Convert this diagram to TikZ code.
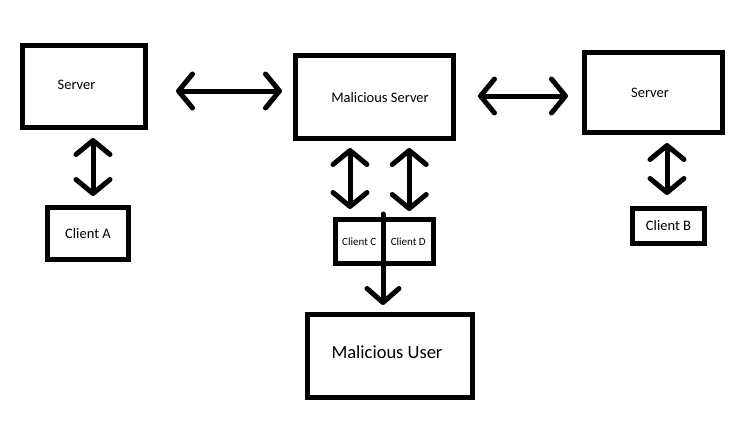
\documentclass[tikz,border=0pt]{standalone}
\usepackage{fontspec}
\setmainfont{Carlito}
\usetikzlibrary{arrows.meta,calc}
\begin{document}
\begin{tikzpicture}[x=1pt,y=-1pt,
  box/.style={draw=black,line width=5pt,fill=white,rectangle,inner sep=0pt,font=\fontsize{14.5}{16}\selectfont},
  biarrow/.style={line width=5pt,line cap=round,{Straight Barb[length=14pt,width=34pt,round]}-{Straight Barb[length=14pt,width=34pt,round]}},
  downarrow/.style={line width=5pt,line cap=round,-{Straight Barb[length=14pt,width=32pt,round]}}]
\useasboundingbox (0,0) rectangle (752,442);
\node[box,minimum width=123pt,minimum height=82pt,label={[xshift=-7.5pt,yshift=1.5pt,font=\fontsize{14.5}{16}\selectfont]center:Server}] (serverL) at (84,86.5) {};
\node[box,minimum width=81pt,minimum height=52pt] (clientA) at (88,233.5) {Client A};
\node[box,minimum width=158pt,minimum height=83pt,label={[xshift=5.5pt,yshift=-1pt,font=\fontsize{14.5}{16}\selectfont]center:Malicious Server}] (malserver) at (374.5,97) {};
\node[box,minimum width=138pt,minimum height=80pt,label={[xshift=-3.5pt,font=\fontsize{14.5}{16}\selectfont]center:Server}] (serverR) at (653.5,92.5) {};
\node[box,minimum width=72pt,minimum height=35pt] (clientB) at (668.5,226) {Client B};
\node[box,minimum width=47.5pt,minimum height=44pt,font=\fontsize{11}{12}\selectfont] (clientC) at (359.25,241.5) {Client C};
\node[box,minimum width=50.5pt,minimum height=44pt,font=\fontsize{11}{12}\selectfont] (clientD) at (408.25,241.5) {Client D};
\node[box,minimum width=165pt,minimum height=83pt,label={[xshift=-3pt,yshift=4pt,font=\fontsize{18.5}{20}\selectfont]center:Malicious User}] (muser) at (390,356) {};
% connectors
\draw[biarrow,shorten <=28pt,shorten >=11pt] ([yshift=-4.5pt]serverL.east) -- ([yshift=-4.5pt]serverL.east -| malserver.west);
\draw[biarrow,shorten <=22pt,shorten >=14pt] ([yshift=1pt]malserver.east) -- ([yshift=1pt]malserver.east -| serverR.west);
\draw[biarrow,shorten <=9pt,shorten >=8pt] ([xshift=5pt]clientA.north) -- ([xshift=5pt]clientA.north |- serverL.south);
\draw[biarrow,shorten <=8pt,shorten >=11pt] ([xshift=-1.5pt]clientB.north |- serverR.south) -- ([xshift=-1.5pt]clientB.north);
\draw[biarrow,shorten <=7pt,shorten >=8pt] ([xshift=-9.25pt]clientC.north |- malserver.south) -- ([xshift=-9.25pt]clientC.north);
\draw[biarrow,shorten <=7pt,shorten >=6pt] ([xshift=1pt]clientD.north |- malserver.south) -- ([xshift=1pt]clientD.north);
\coordinate (div) at ($(clientC.north east)!0.5!(clientD.north west)$);
\draw[downarrow,shorten <=-3pt,shorten >=7pt] (div) -- (div |- muser.north);
\end{tikzpicture}
\end{document}
